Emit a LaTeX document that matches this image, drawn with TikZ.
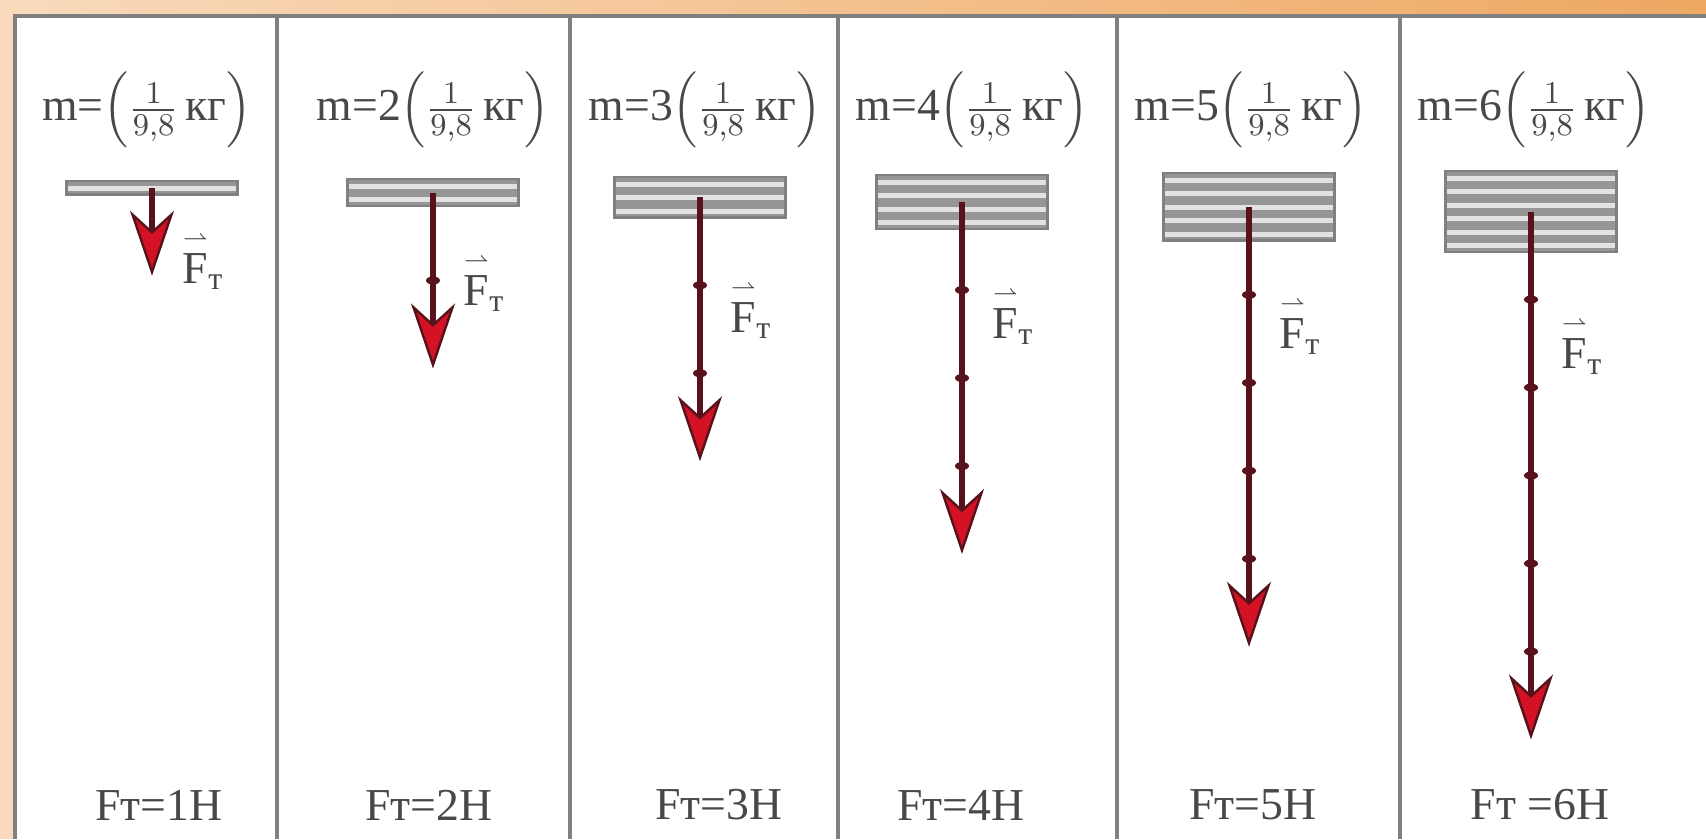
\documentclass[tikz,border=0pt]{standalone}
\usepackage{amsmath}
\usepackage{fontspec}
\setmainfont{Liberation Serif}
\usepackage{xcolor}
\usepackage{tikz}
\usetikzlibrary{arrows.meta,positioning}
\definecolor{frameOrange}{RGB}{238,168,98}
\definecolor{framePeach}{RGB}{249,218,188}
\definecolor{tableGray}{RGB}{128,128,128}
\definecolor{plateGray}{RGB}{150,150,150}
\definecolor{plateLight}{RGB}{226,226,226}
\definecolor{forceDark}{RGB}{88,18,28}
\definecolor{forceRed}{RGB}{212,18,36}
\definecolor{fgray}{RGB}{72,72,72}

\begin{document}
\begin{tikzpicture}[font=\fontsize{13}{16}\selectfont,
  force/.style={draw=forceDark, line width=1.7pt, -{Stealth[length=6.5mm,width=4.4mm,inset=2mm,line width=0.7pt,fill=forceRed]}},
  lbl/.style={text=fgray, inner sep=0pt}]
\useasboundingbox (0,0) rectangle (17.06,-8.39);
\fill[framePeach] (0,0) rectangle (17.06,-8.39);
\shade[left color=framePeach, right color=frameOrange] (0,0) rectangle (17.06,-0.13);
\fill[white] (0.15,-0.16) rectangle (17.06,-8.39);
\draw[tableGray, line width=0.9pt] (0.15,-8.39)--(0.15,-0.16)--(17.06,-0.16);
\foreach \x in {2.77,5.70,8.38,11.17,14.00}
  \draw[tableGray, line width=0.9pt] (\x,-0.16)--(\x,-8.39);

\foreach \k/\cx/\mx/\fy/\bx/\mk/\bt in {1/1.52/1.47/-2.61/1.59/{}/{Fт=1Н},
    2/4.33/4.33/-2.83/4.29/2/{Fт=2Н}, 3/7.00/7.05/-3.10/7.19/3/{Fт=3Н},
    4/9.62/9.72/-3.16/9.61/4/{Fт=4Н}, 5/12.49/12.51/-3.26/12.53/5/{Fт=5Н},
    6/15.31/15.34/-3.46/15.40/6/{Fт =6Н}} {
\begin{scope}
\pgfmathsetmacro\ytop{-1.83+0.02*\k}
\pgfmathsetmacro\ys{\ytop-0.0675*\k}
% stack of plates
\foreach \p in {1,...,\k} {
  \fill[plateGray] (\cx-0.855,{\ytop-0.135*(\p-1)}) rectangle (\cx+0.855,{\ytop-0.135*\p});
  \fill[plateLight] (\cx-0.84,{\ytop-0.135*(\p-1)-0.045}) rectangle (\cx+0.84,{\ytop-0.135*\p+0.04});
}
\draw[tableGray, line width=0.6pt] (\cx-0.855,\ytop) rectangle (\cx+0.855,{\ytop-0.135*\k});
% force vector
\coordinate (s\k) at (\cx,\ys);
\coordinate (t\k) at (\cx,{\ys-0.88*\k});
\draw[force] (s\k) -- (t\k);
\ifnum\k>1
  \foreach \j in {2,...,\k}
    \fill[forceDark] (\cx,{\ys-0.88*(\j-1)}) ellipse (0.07 and 0.04);
\fi
\coordinate (h\k) at (\cx,\fy);
\node[lbl] (m\k) at (\mx,-1.10) {m=\mk$\left(\frac{1}{9{,}8}\,\text{кг}\right)$};
\node[lbl, right=0.3cm of h\k] (F\k) {$\overset{\scriptscriptstyle\rightharpoonup}{\text{F}}_{\text{т}}$};
\node[lbl] (b\k) at (\bx,-8.05) {\bt};
\end{scope}
}
\end{tikzpicture}
\end{document}
